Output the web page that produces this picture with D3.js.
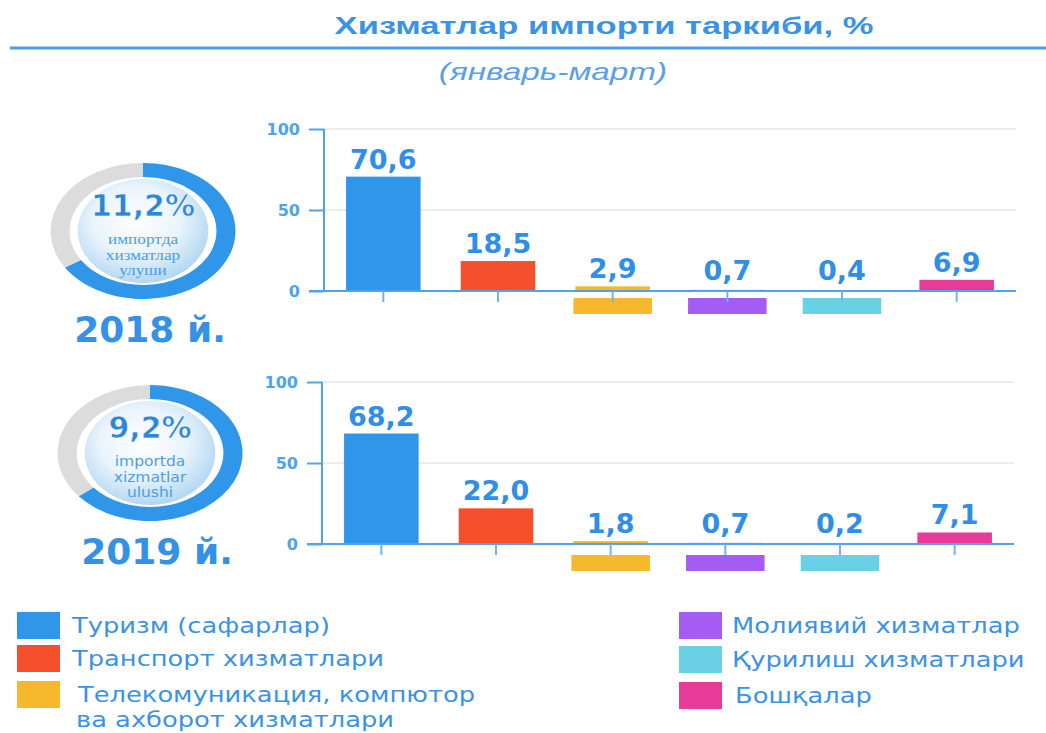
<!DOCTYPE html>
<html>
<head>
<meta charset="utf-8">
<script src="https://cdn.jsdelivr.net/npm/d3@7"></script>
<style>
  body { margin: 0; background: #fff; }
  svg { display: block; }
</style>
</head>
<body>
<div id="chart"></div>
<script>
// categories (legend order = bar order)
const categories = ["Туризм (сафарлар)", "Транспорт хизматлари",
  "Телекомуникация, компютор ва ахборот хизматлари",
  "Молиявий хизматлар", "Қурилиш хизматлари", "Бошқалар"];
const colors = ["#3096e9", "#f54f2b", "#f6b82c", "#a45cf4", "#69d0e6", "#e63b96"];

const years = ["2018 й.", "2019 й."];
const values2018 = [70.6, 18.5, 2.9, 0.7, 0.4, 6.9];
const values2019 = [68.2, 22.0, 1.8, 0.7, 0.2, 7.1];
const labels2018 = ["70,6", "18,5", "2,9", "0,7", "0,4", "6,9"];
const labels2019 = ["68,2", "22,0", "1,8", "0,7", "0,2", "7,1"];

// share of services in imports (centre text) and ring fill as drawn
const shareText = ["11,2%", "9,2%"];
const shareCaption = [["импортда", "хизматлар", "улуши"], ["importda", "xizmatlar", "ulushi"]];
const ringFill = [66, 64];

const yTicks = [0, 50, 100];

const W = 1046, H = 733;
const blue = "#3392e6";
const svg = d3.select("#chart").append("svg").attr("width", W).attr("height", H);

// title (picture is stretched sideways, so the text is too)
svg.append("text")
  .attr("transform", "translate(604,34) scale(1.44,1)")
  .attr("text-anchor", "middle")
  .attr("font-family", "Liberation Sans, sans-serif")
  .attr("font-weight", "bold")
  .attr("font-size", 24)
  .attr("fill", "#3a93e6")
  .text("Хизматлар импорти таркиби, %");

svg.append("line")
  .attr("x1", 10).attr("x2", W).attr("y1", 48).attr("y2", 48)
  .attr("stroke", "#4b9fea").attr("stroke-width", 3);

svg.append("text")
  .attr("transform", "translate(553,80) scale(1.45,1)")
  .attr("text-anchor", "middle")
  .attr("font-family", "Liberation Sans, sans-serif")
  .attr("font-style", "italic")
  .attr("font-size", 23)
  .attr("fill", "#5a9fe8")
  .text("(январь-март)");

const defs = svg.append("defs");
const grad = defs.append("radialGradient").attr("id", "globe")
  .attr("cx", "45%").attr("cy", "40%").attr("r", "60%");
grad.append("stop").attr("offset", "0%").attr("stop-color", "#ffffff");
grad.append("stop").attr("offset", "55%").attr("stop-color", "#eaf4fc");
grad.append("stop").attr("offset", "100%").attr("stop-color", "#b3d8f2");

function drawPanel(opts) {
  const g = svg.append("g");
  const x = d3.scaleBand().domain(categories)
    .range([opts.x0, opts.x0 + 688]).paddingInner(0.35).paddingOuter(0.175);
  const y = d3.scaleLinear().domain([0, 100]).range([opts.base, opts.base - 162]);

  // gridlines
  g.selectAll(".grid").data(yTicks.filter(d => d > 0)).join("line")
    .attr("x1", opts.x0 - 2).attr("x2", opts.x0 + 690)
    .attr("y1", d => y(d)).attr("y2", d => y(d))
    .attr("stroke", "#e6e6e6").attr("stroke-width", 1.5);

  // y axis
  const yAxis = g.append("g")
    .attr("transform", `translate(${opts.x0 - 2},0)`)
    .call(d3.axisLeft(y).tickValues(yTicks).tickSize(15).tickPadding(9));
  yAxis.select(".domain").attr("stroke", "#4ea3ee").attr("stroke-width", 2)
    .attr("d", `M0,${y(100)}V${y(0)}`);
  yAxis.selectAll(".tick line").attr("stroke", "#4ea3ee").attr("stroke-width", 2);
  yAxis.selectAll(".tick text")
    .attr("font-family", "DejaVu Sans, sans-serif")
    .attr("font-weight", "bold").attr("font-size", 16)
    .attr("fill", "#4ea3ee");

  // bars
  g.selectAll(".bar").data(opts.values).join("rect")
    .attr("x", (d, i) => x(categories[i]))
    .attr("width", x.bandwidth())
    .attr("y", d => y(d))
    .attr("height", d => y(0) - y(d))
    .attr("fill", (d, i) => colors[i]);

  // small-value blocks drawn under the axis
  g.selectAll(".stub").data(opts.values.map((v, i) => ({v, i})).filter(d => d.v < 5)).join("rect")
    .attr("x", d => x(categories[d.i]) - 2)
    .attr("width", x.bandwidth() + 4)
    .attr("y", y(0) + opts.stub)
    .attr("height", 16)
    .attr("fill", d => colors[d.i]);

  // x axis
  const xAxis = g.append("g")
    .attr("transform", `translate(0,${y(0)})`)
    .call(d3.axisBottom(x).tickSize(11).tickFormat(""));
  xAxis.select(".domain").attr("stroke", "#4ea3ee").attr("stroke-width", 2)
    .attr("d", `M${opts.x0 - 17},0H${opts.x0 + 690}`);
  xAxis.selectAll(".tick line").attr("stroke", "#6fb4f0").attr("stroke-width", 2);

  // value labels
  g.selectAll(".lbl").data(opts.values).join("text")
    .attr("x", (d, i) => x(categories[i]) + x.bandwidth() / 2)
    .attr("y", d => Math.min(y(d) - 8, y(0) - 11))
    .attr("text-anchor", "middle")
    .attr("font-family", "DejaVu Sans, sans-serif")
    .attr("font-weight", "bold").attr("font-size", 27)
    .attr("fill", "#2f8ee6")
    .text((d, i) => opts.labels[i]);

  // donut with globe centre
  const d = svg.append("g")
    .attr("transform", `translate(${opts.cx},${opts.cy}) scale(1.36,1)`);
  const arc = d3.arc().innerRadius(54).outerRadius(68);
  const pie = d3.pie().sort(null).value(v => v);
  d.selectAll("path").data(pie([opts.ring, 100 - opts.ring])).join("path")
    .attr("d", arc)
    .attr("fill", (p, i) => i === 0 ? "#3096e9" : "#dcdcdc");
  d.append("ellipse").attr("rx", 48).attr("ry", 52)
    .attr("fill", "url(#globe)");

  svg.append("text")
    .attr("x", opts.cx).attr("y", opts.cy - 15)
    .attr("text-anchor", "middle")
    .attr("font-family", "DejaVu Sans, sans-serif")
    .attr("font-weight", "bold").attr("font-size", 30)
    .attr("fill", "#2d86d6")
    .attr("stroke", "#ffffff").attr("stroke-width", 0.6)
    .text(opts.share);

  svg.append("g").selectAll("text").data(opts.caption).join("text")
    .attr("transform", (t, i) => `translate(${opts.cx},${opts.cy + 13 + i * 15.5}) scale(1.15,1)`)
    .attr("text-anchor", "middle")
    .attr("font-family", opts.serif ? "Liberation Serif, serif" : "DejaVu Sans, sans-serif")
    .attr("font-size", opts.serif ? 15 : 13.5)
    .attr("fill", "#4a9ee8")
    .text(t => t);

  svg.append("text")
    .attr("x", opts.cx + 7).attr("y", opts.yearY)
    .attr("text-anchor", "middle")
    .attr("font-family", "DejaVu Sans, sans-serif")
    .attr("font-weight", "bold").attr("font-size", 36)
    .attr("fill", blue)
    .text(opts.year);
}

drawPanel({values: values2018, labels: labels2018, x0: 326, base: 291, stub: 7,
  cx: 143, cy: 231, ring: ringFill[0], share: shareText[0], caption: shareCaption[0],
  serif: true, year: years[0], yearY: 342});
drawPanel({values: values2019, labels: labels2019, x0: 324, base: 544, stub: 11,
  cx: 150, cy: 453, ring: ringFill[1], share: shareText[1], caption: shareCaption[1],
  serif: false, year: years[1], yearY: 564});

// legend
const legendItems = [
  {i: 0, x: 17, y: 612, lines: ["Туризм (сафарлар)"], tx: 72},
  {i: 1, x: 17, y: 645, lines: ["Транспорт хизматлари"], tx: 72},
  {i: 2, x: 17, y: 681, lines: ["Телекомуникация, компютор", "ва ахборот хизматлари"], tx: 78},
  {i: 3, x: 679, y: 612, lines: ["Молиявий хизматлар"], tx: 732},
  {i: 4, x: 679, y: 646, lines: ["Қурилиш хизматлари"], tx: 732},
  {i: 5, x: 679, y: 682, lines: ["Бошқалар"], tx: 735}
];
const lg = svg.append("g").selectAll("g").data(legendItems).join("g");
lg.append("rect")
  .attr("x", d => d.x).attr("y", d => d.y)
  .attr("width", 43).attr("height", 27)
  .attr("fill", d => colors[d.i]);
lg.each(function(d) {
  d3.select(this).selectAll("text").data(d.lines).join("text")
    .attr("transform", (t, k) => `translate(${d.tx - k * 2},${d.y + 21 + k * 25}) scale(1.17,1)`)
    .attr("font-family", "DejaVu Sans, sans-serif")
    .attr("font-size", 22)
    .attr("fill", "#3a93e6")
    .text(t => t);
});
</script>
</body>
</html>
